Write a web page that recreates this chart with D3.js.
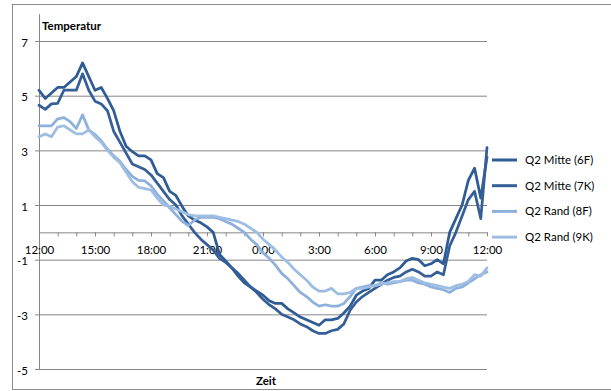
<!DOCTYPE html>
<html>
<head>
<meta charset="utf-8">
<script src="https://cdn.jsdelivr.net/npm/d3@7"></script>
<style>
  body { margin: 0; background: #fff; }
  svg { display: block; }
  text { font-family: Lato, "Open Sans", sans-serif; fill: #000; }
</style>
</head>
<body>
<svg id="chart" width="611" height="391"></svg>
<script>
// Measurements every 20 minutes, 12:00 to 12:00 the next day
const categories = [
  "12:00","12:20","12:40","13:00","13:20","13:40","14:00","14:20","14:40",
  "15:00","15:20","15:40","16:00","16:20","16:40","17:00","17:20","17:40",
  "18:00","18:20","18:40","19:00","19:20","19:40","20:00","20:20","20:40",
  "21:00","21:20","21:40","22:00","22:20","22:40","23:00","23:20","23:40",
  "0:00","0:20","0:40","1:00","1:20","1:40","2:00","2:20","2:40",
  "3:00","3:20","3:40","4:00","4:20","4:40","5:00","5:20","5:40",
  "6:00","6:20","6:40","7:00","7:20","7:40","8:00","8:20","8:40",
  "9:00","9:20","9:40","10:00","10:20","10:40","11:00","11:20","11:40",
  "12:00"
];

const mitte6F = [
  5.2, 4.9, 5.1, 5.3, 5.3, 5.5, 5.7, 6.2, 5.7, 5.2,
  5.3, 4.9, 4.45, 3.7, 3.15, 2.95, 2.8, 2.8, 2.65, 2.15,
  2.0, 1.5, 1.35, 0.95, 0.6, 0.45, 0.35, 0.2, 0.0, -0.8,
  -1.05, -1.3, -1.6, -1.85, -2.0, -2.15, -2.3, -2.5, -2.6, -2.6,
  -2.8, -2.95, -3.1, -3.2, -3.3, -3.4, -3.2, -3.2, -3.15, -2.95,
  -2.7, -2.3, -2.15, -2.05, -1.75, -1.75, -1.55, -1.45, -1.3, -1.05,
  -0.95, -1.0, -1.22, -1.15, -1.0, -1.15, 0.0, 0.5, 1.0, 1.9,
  2.35, 1.25, 2.75
];

const mitte7K = [
  4.65, 4.5, 4.7, 4.72, 5.2, 5.2, 5.2, 5.8, 5.2, 4.8,
  4.7, 4.45, 3.7, 3.3, 2.9, 2.5, 2.4, 2.3, 2.1, 1.8,
  1.5, 1.2, 1.0, 0.6, 0.3, 0.0, -0.25, -0.45, -0.65, -0.95,
  -1.1, -1.3, -1.5, -1.75, -2.0, -2.2, -2.45, -2.65, -2.8, -3.0,
  -3.1, -3.2, -3.35, -3.45, -3.6, -3.7, -3.7, -3.6, -3.55, -3.35,
  -2.85, -2.55, -2.35, -2.2, -2.05, -1.9, -1.75, -1.65, -1.6, -1.45,
  -1.35, -1.45, -1.6, -1.6, -1.45, -1.55, -0.5, 0.0, 0.6, 1.2,
  1.5, 0.5, 3.1
];

const rand8F = [
  3.9, 3.9, 3.9, 4.15, 4.2, 4.05, 3.8, 4.3, 3.75, 3.58,
  3.35, 3.05, 2.8, 2.6, 2.3, 2.05, 1.9, 1.88, 1.7, 1.4,
  1.15, 0.9, 0.65, 0.4, 0.25, 0.45, 0.55, 0.55, 0.55, 0.5,
  0.4, 0.3, 0.15, 0.0, -0.25, -0.45, -0.75, -0.95, -1.2, -1.5,
  -1.7, -1.95, -2.2, -2.35, -2.55, -2.7, -2.65, -2.7, -2.7, -2.6,
  -2.35, -2.05, -2.0, -1.95, -1.95, -1.85, -1.9, -1.85, -1.8, -1.75,
  -1.75, -1.85, -1.9, -2.0, -2.05, -2.1, -2.2, -2.05, -2.0, -1.85,
  -1.7, -1.55, -1.45
];

const rand9K = [
  3.5, 3.6, 3.5, 3.85, 3.9, 3.75, 3.6, 3.6, 3.75, 3.5,
  3.3, 3.0, 2.75, 2.55, 2.2, 1.85, 1.65, 1.6, 1.55, 1.25,
  1.0, 0.95, 0.85, 0.75, 0.65, 0.6, 0.6, 0.6, 0.6, 0.55,
  0.5, 0.45, 0.4, 0.3, 0.15, 0.0, -0.25, -0.45, -0.65, -0.9,
  -1.1, -1.35, -1.55, -1.75, -2.0, -2.15, -2.15, -2.05, -2.25, -2.25,
  -2.2, -2.05, -2.05, -2.0, -1.95, -1.9, -1.85, -1.8, -1.8, -1.7,
  -1.65, -1.75, -1.85, -1.9, -1.95, -2.0, -2.05, -1.95, -1.9, -1.8,
  -1.55, -1.6, -1.3
];

const seriesNames = ["Q2 Mitte (6F)", "Q2 Mitte (7K)", "Q2 Rand (8F)", "Q2 Rand (9K)"];
const seriesColors = ["#2f5c95", "#365f98", "#8db0dc", "#9dbde3"];
const seriesValues = [mitte6F, mitte7K, rand8F, rand9K];

const xTickLabels = ["12:00", "15:00", "18:00", "21:00", "0:00", "3:00", "6:00", "9:00", "12:00"];
const yTicks = [-5, -3, -1, 1, 3, 5, 7];

const svg = d3.select("#chart");
const axisGray = "#868686";

// chart frame
svg.append("rect")
  .attr("x", 12.5).attr("y", 4.5)
  .attr("width", 640).attr("height", 385)
  .attr("fill", "none").attr("stroke", "#8c8c8c");

const x = d3.scalePoint()
  .domain(d3.range(categories.length))
  .range([39, 487]);

const y = d3.scaleLinear()
  .domain([-5, 8])
  .range([369, 13.7]);

// horizontal gridlines
svg.append("g")
  .selectAll("line")
  .data(yTicks)
  .join("line")
  .attr("x1", 39).attr("x2", 487)
  .attr("y1", d => y(d) + 0.5).attr("y2", d => y(d) + 0.5)
  .attr("stroke", axisGray);

// value axis
const yAxis = svg.append("g")
  .attr("transform", "translate(39,0)")
  .call(d3.axisLeft(y)
    .tickValues(yTicks)
    .tickSize(4)
    .tickSizeOuter(0)
    .tickPadding(7)
    .tickFormat(d => String(d)));
yAxis.select(".domain").attr("stroke", axisGray);
yAxis.selectAll(".tick line").attr("stroke", axisGray);
yAxis.selectAll(".tick text")
  .attr("font-size", 11.5)
  .attr("dy", "0.45em");

// time axis through zero
const hourIdx = d3.range(0, categories.length, 3);
const xAxis = svg.append("g")
  .attr("transform", `translate(0,${y(0)})`)
  .call(d3.axisBottom(x)
    .tickValues(hourIdx)
    .tickSize(4)
    .tickSizeOuter(0)
    .tickPadding(9)
    .tickFormat(i => i % 9 === 0 ? xTickLabels[i / 9] : ""));
xAxis.select(".domain").attr("stroke", axisGray);
xAxis.selectAll(".tick line").attr("stroke", axisGray);
xAxis.selectAll(".tick text").attr("font-size", 11.5);

// series lines
const line = d3.line()
  .x((d, i) => x(i))
  .y(d => y(d));

svg.append("g")
  .selectAll("path")
  .data(seriesValues)
  .join("path")
  .attr("d", d => line(d))
  .attr("fill", "none")
  .attr("stroke", (d, i) => seriesColors[i])
  .attr("stroke-width", 2.75)
  .attr("stroke-linejoin", "round")
  .attr("stroke-linecap", "round");

// axis titles
svg.append("text")
  .attr("x", 42).attr("y", 30)
  .attr("font-size", 11.5).attr("font-weight", "bold")
  .text("Temperatur");

svg.append("text")
  .attr("x", 266).attr("y", 385)
  .attr("text-anchor", "middle")
  .attr("font-size", 11.5).attr("font-weight", "bold")
  .text("Zeit");

// legend
const legend = svg.append("g")
  .selectAll("g")
  .data(seriesNames)
  .join("g")
  .attr("transform", (d, i) => `translate(0,${160 + i * 25.7})`);

legend.append("line")
  .attr("x1", 492).attr("x2", 517)
  .attr("y1", 0).attr("y2", 0)
  .attr("stroke", (d, i) => seriesColors[i])
  .attr("stroke-width", 3);

legend.append("text")
  .attr("x", 525).attr("y", 4)
  .attr("font-size", 11.5)
  .text(d => d);
</script>
</body>
</html>
